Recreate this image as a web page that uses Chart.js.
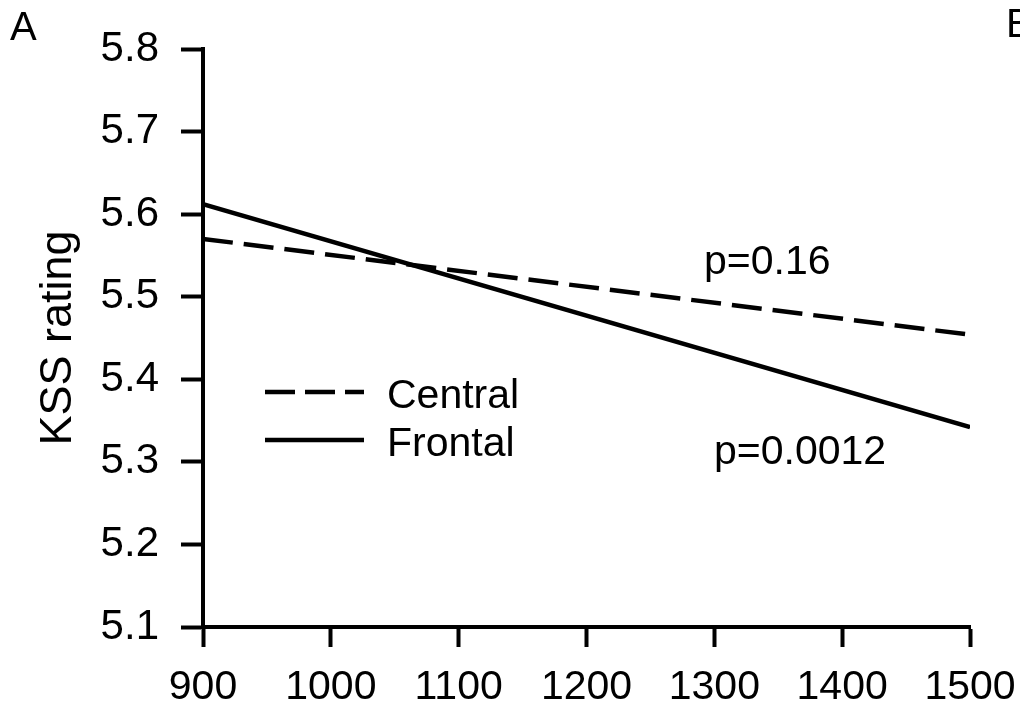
<!DOCTYPE html>
<html>
<head>
<meta charset="utf-8">
<script src="https://cdn.jsdelivr.net/npm/chart.js@4.4.1/dist/chart.umd.min.js"></script>
<style>
body{margin:0;background:#fff;}
#wrap{width:1020px;height:712px;}
</style>
</head>
<body>
<div id="wrap"><canvas id="kss" width="1020" height="712"></canvas></div>
<script>

// data
const distances = [900, 1500];
const centralKss = [5.570, 5.454];
const frontalKss = [5.612, 5.342];
const xTicks = [900, 1000, 1100, 1200, 1300, 1400, 1500];
const yTicks = [5.1, 5.2, 5.3, 5.4, 5.5, 5.6, 5.7, 5.8];
const pLabels = ["p=0.16", "p=0.0012"];
const seriesNames = ["Central", "Frontal"];

const FONT = "'Liberation Sans', Arial, sans-serif";

const toPoints = (ys)=>distances.map((d,i)=>({x:d,y:ys[i]}));

// legend, p-values and panel letters
const extras = {
id:"extras",
afterDraw(chart){
const ctx = chart.ctx;
ctx.save();
ctx.fillStyle = "#000";
ctx.strokeStyle = "#000";
ctx.textBaseline = "alphabetic";
ctx.font = "40px " + FONT;
ctx.fillText("A", 10, 40);
ctx.fillText("B", 1006, 37);

ctx.font = "41px " + FONT;
ctx.fillText(pLabels[0], 704, 274);
ctx.fillText(pLabels[1], 714, 464);

// legend
ctx.lineWidth = 4.5;
ctx.setLineDash([30,10]);
ctx.beginPath();
ctx.moveTo(265,392);
ctx.lineTo(364,392);
ctx.stroke();
ctx.setLineDash([]);
ctx.beginPath();
ctx.moveTo(265,440);
ctx.lineTo(364,440);
ctx.stroke();
ctx.font = "41px " + FONT;
ctx.fillText(seriesNames[0], 387, 408);
ctx.fillText(seriesNames[1], 387, 456);
ctx.restore();
}
};

new Chart(document.getElementById("kss"),{
type:"line",
data:{
datasets:[
{
label:seriesNames[0],
data:toPoints(centralKss),
borderColor:"#000",
borderWidth:4.5,
borderDash:[30,11],
pointRadius:0,
fill:false
},
{
label:seriesNames[1],
data:toPoints(frontalKss),
borderColor:"#000",
borderWidth:4.5,
pointRadius:0,
fill:false
}
]
},
options:{
responsive:false,
animation:false,
devicePixelRatio:1,
layout:{padding:{left:0,right:50,top:49,bottom:0}},
plugins:{legend:{display:false},tooltip:{enabled:false}},
scales:{
x:{
type:"linear",
min:900,
max:1500,
afterBuildTicks:(s)=>{s.ticks = xTicks.map(v=>({value:v}));},
afterFit:(s)=>{s.height = 85; s.paddingLeft = 0; s.paddingRight = 0;},
grid:{drawOnChartArea:false,drawTicks:true,tickLength:20,tickWidth:4,tickColor:"#000"},
border:{display:true,color:"#000",width:4},
ticks:{color:"#000",font:{family:FONT,size:41},padding:16,maxRotation:0,callback:(v)=>String(v)}
},
y:{
min:5.1,
max:5.8,
afterBuildTicks:(s)=>{s.ticks = yTicks.map(v=>({value:v}));},
afterFit:(s)=>{s.width = 203; s.paddingTop = 0; s.paddingBottom = 0;},
grid:{drawOnChartArea:false,drawTicks:true,tickLength:22,tickWidth:4,tickColor:"#000"},
border:{display:true,color:"#000",width:4},
ticks:{color:"#000",font:{family:FONT,size:42},padding:22,callback:(v)=>v.toFixed(1)},
title:{display:true,text:"KSS rating",color:"#000",font:{family:FONT,size:45},padding:{top:32,bottom:0}}
}
}
},
plugins:[extras]
});

</script>
</body>
</html>
